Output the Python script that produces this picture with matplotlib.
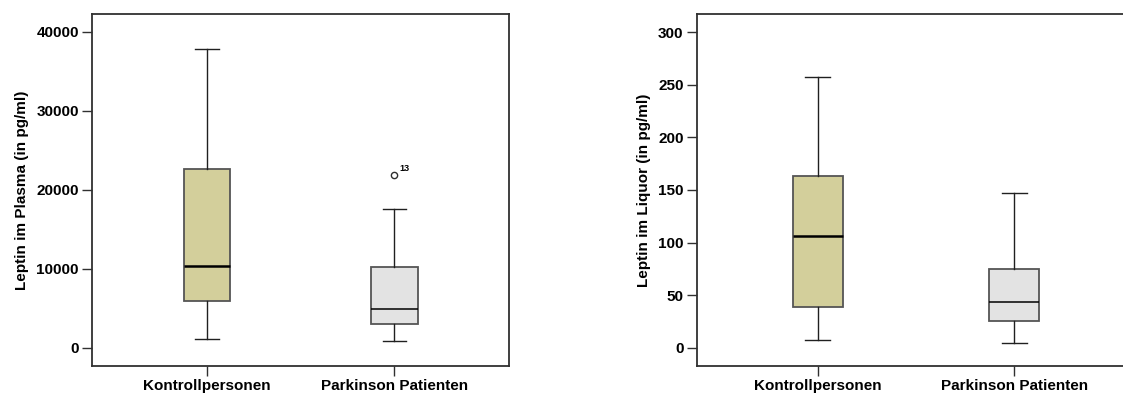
import matplotlib
matplotlib.use("Agg")
import matplotlib.pyplot as plt

# Box plot summaries (pg/ml)
groups = ["Kontrollpersonen", "Parkinson Patienten"]

# Plasma: whislo, q1, med, q3, whishi
plasma_whislo = [1100, 890]
plasma_q1 = [5900, 3000]
plasma_med = [10400, 4860]
plasma_q3 = [22600, 10250]
plasma_whishi = [37800, 17500]
plasma_fliers = [[], [21800]]
plasma_flier_ids = [[], ["13"]]

# Liquor
liquor_whislo = [7, 4.2]
liquor_q1 = [39, 25]
liquor_med = [106.5, 43]
liquor_q3 = [163, 74.6]
liquor_whishi = [257.5, 147.5]
liquor_fliers = [[], []]
liquor_flier_ids = [[], []]

fill_colors = ["#d3cf9b", "#e3e3e3"]
median_widths = [1.8, 1.1]
edge = "#555555"


def draw(ax, whislo, q1, med, q3, whishi, fliers, flier_ids, ylim, yticks, ylabel, width):
    stats = []
    for i in range(len(groups)):
        stats.append(dict(whislo=whislo[i], q1=q1[i], med=med[i], q3=q3[i],
                          whishi=whishi[i], fliers=fliers[i], label=groups[i]))
    bp = ax.bxp(stats, positions=[1, 2], widths=width, patch_artist=True,
                showfliers=True,
                boxprops=dict(edgecolor=edge, linewidth=1.3),
                medianprops=dict(color="black", linewidth=1.8),
                whiskerprops=dict(color="#202020", linewidth=1.0),
                capprops=dict(color="#202020", linewidth=1.0),
                capwidths=width / 2,
                flierprops=dict(marker="o", markerfacecolor="white",
                                markeredgecolor="#303030", markersize=4.5,
                                markeredgewidth=1.0))
    for patch, c in zip(bp["boxes"], fill_colors):
        patch.set_facecolor(c)
    for line, lw in zip(bp["medians"], median_widths):
        line.set_linewidth(lw)
    for i, (vals, ids) in enumerate(zip(fliers, flier_ids)):
        for v, t in zip(vals, ids):
            ax.annotate(t, (i + 1, v), xytext=(4, 2), textcoords="offset points",
                        fontsize=6.5, fontweight="bold", ha="left", va="bottom")
    ax.set_xlim(0.385, 2.615)
    ax.set_ylim(*ylim)
    ax.set_yticks(yticks)
    ax.set_xticks([1, 2])
    ax.set_xticklabels(groups, fontsize=11, fontweight="bold")
    for lab in ax.get_yticklabels():
        lab.set_fontsize(11)
        lab.set_fontweight("bold")
    ax.tick_params(axis="both", direction="out", length=7.5, width=1.0,
                   color="#303030", pad=2)
    ax.set_ylabel(ylabel, fontsize=11, fontweight="bold", labelpad=5)
    for s in ax.spines.values():
        s.set_color("#303030")
        s.set_linewidth(1.3)


plt.rcParams["font.family"] = ["Liberation Sans", "DejaVu Sans"]

fig = plt.figure(figsize=(11.23, 3.94), dpi=100)
ax1 = fig.add_axes([92 / 1123, 28 / 394, (509.3 - 92) / 1123, 352 / 394])
ax2 = fig.add_axes([696.7 / 1123, 28 / 394, (1135 - 696.7) / 1123, 352 / 394])

draw(ax1, plasma_whislo, plasma_q1, plasma_med, plasma_q3, plasma_whishi,
     plasma_fliers, plasma_flier_ids, (-2320, 42240),
     [0, 10000, 20000, 30000, 40000], "Leptin im Plasma (in pg/ml)", 0.25)
draw(ax2, liquor_whislo, liquor_q1, liquor_med, liquor_q3, liquor_whishi,
     liquor_fliers, liquor_flier_ids, (-17.4, 317.4),
     [0, 50, 100, 150, 200, 250, 300], "Leptin im Liquor (in pg/ml)", 0.254)

fig.savefig("out.png", dpi=100)
